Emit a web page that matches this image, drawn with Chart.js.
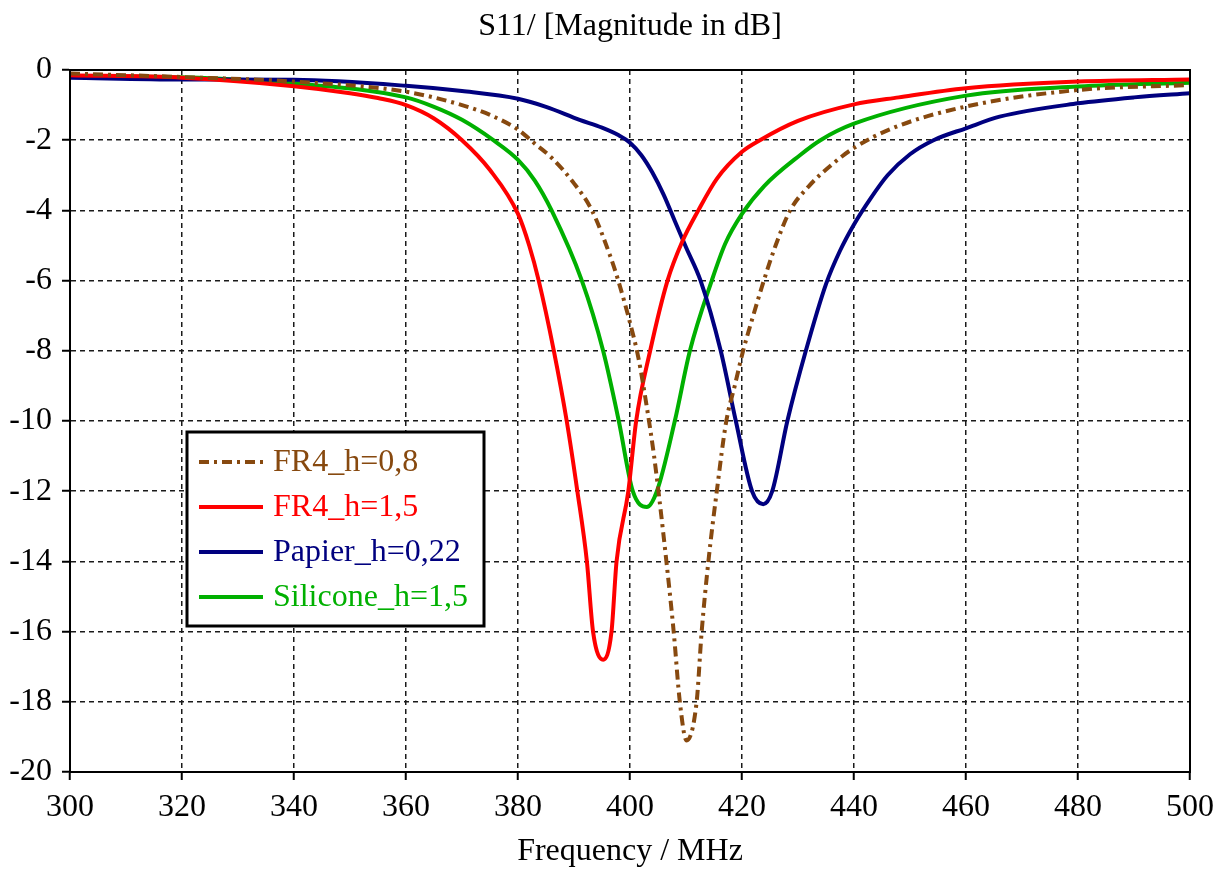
<!DOCTYPE html>
<html>
<head>
<meta charset="utf-8" />
<title>S11 Magnitude</title>
<script src="https://cdn.jsdelivr.net/npm/chart.js"></script>
<style>
	html, body { margin: 0; padding: 0; background: #fff; }
	#wrap { width: 1221px; height: 871px; }
</style>
</head>
<body>
<div id="wrap"><canvas id="s11Chart" width="1221" height="871"></canvas></div>
<script>
	// values (frequency in MHz, S11 in dB)
	const fr4_08_freq = [300, 320, 340, 360, 370, 375, 380, 383, 386, 390, 393.2, 396.4, 397.9, 400, 401.5, 403, 404.3, 405.3, 406.5, 407.8, 408.9, 410.1, 411.9, 412.8, 414, 415.5, 417.2, 418.7, 420.2, 422, 423.9, 426, 428.6, 432, 436, 440, 447, 460, 480, 500];
	const fr4_08_db = [-0.1, -0.2, -0.33, -0.62, -1.0, -1.28, -1.7, -2.1, -2.5, -3.23, -4, -5.27, -6, -7.2, -8.2, -9.6, -11, -12.3, -14, -16, -18, -19.1, -18, -16, -14, -12, -10, -9, -8, -7, -6, -5, -4, -3.3, -2.7, -2.22, -1.65, -1.04, -0.57, -0.43];

	const fr4_15_freq = [300, 320, 340, 350, 355, 360, 365, 370, 375, 380, 382, 383.7, 386.4, 388.7, 390.6, 392.3, 393.4, 395.2, 396.7, 397.6, 399.7, 401.1, 403.6, 406.7, 409.3, 412.2, 415.5, 420, 423.2, 430, 440, 448, 460, 480, 500];
	const fr4_15_db = [-0.15, -0.22, -0.46, -0.66, -0.8, -1.0, -1.38, -2.0, -2.85, -4.1, -5.0, -6, -8, -10, -12, -14, -16, -16.8, -16, -14, -12, -10, -8, -6, -4.9, -4.0, -3.1, -2.33, -2, -1.45, -0.98, -0.78, -0.52, -0.33, -0.27];

	const papier_freq = [300, 320, 340, 360, 370, 380, 385, 391, 395, 398, 400, 402, 404, 406, 408, 410, 412.6, 416.2, 418.9, 421.8, 423.8, 425.4, 428.1, 431.4, 435, 437.5, 440, 443, 446, 450, 454.2, 460, 466, 480, 490, 500];
	const papier_db = [-0.22, -0.27, -0.28, -0.45, -0.6, -0.82, -1.05, -1.42, -1.64, -1.86, -2.07, -2.42, -2.92, -3.55, -4.3, -5.05, -6, -8, -10, -12, -12.37, -12, -10, -8, -6.1, -5.15, -4.4, -3.65, -3.0, -2.4, -2.0, -1.66, -1.33, -0.95, -0.78, -0.66];

	const silicone_freq = [300, 320, 340, 360, 365, 370, 375.6, 380, 383, 386, 391.4, 395.2, 398, 400.5, 403, 404.8, 408, 410.7, 414.6, 417, 420, 424, 430.4, 434, 440, 460, 480, 500];
	const silicone_db = [-0.17, -0.21, -0.38, -0.78, -1.05, -1.42, -2, -2.56, -3.15, -4, -6, -8, -10, -12, -12.45, -12, -10, -8, -6, -4.95, -4.1, -3.3, -2.42, -2, -1.53, -0.73, -0.47, -0.36];

	const seriesNames = ["FR4_h=0,8", "FR4_h=1,5", "Papier_h=0,22", "Silicone_h=1,5"];
	const seriesColors = ["#87490f", "#ff0000", "#00007f", "#00b000"];

	const xTicks = [300, 320, 340, 360, 380, 400, 420, 440, 460, 480, 500];
	const yTicks = [0, -2, -4, -6, -8, -10, -12, -14, -16, -18, -20];

	const titleText = 'S11/ [Magnitude in dB]';
	const serif = "'Liberation Serif', 'Times New Roman', serif";

	function toPoints(xs, ys) {
		return xs.map(function (x, i) { return { x: x, y: ys[i] }; });
	}

	const lineBase = {
		borderWidth: 4,
		pointRadius: 0,
		fill: false,
		cubicInterpolationMode: 'monotone'
	};

	// title centred over the plot area rather than the whole canvas
	const plotTitle = {
		id: 'plotTitle',
		afterDraw(chart) {
			const ctx = chart.ctx;
			const a = chart.chartArea;
			ctx.save();
			ctx.font = '32px ' + serif;
			ctx.fillStyle = '#000';
			ctx.textAlign = 'center';
			ctx.textBaseline = 'middle';
			ctx.fillText(titleText, (a.left + a.right) / 2, 27);
			ctx.restore();
		}
	};

	// legend box drawn inside the plot, like the original
	const boxLegend = {
		id: 'boxLegend',
		afterDraw(chart) {
			const ctx = chart.ctx;
			const a = chart.chartArea;
			const bx = a.left + 117, by = a.top + 362, bw = 297, bh = 194;
			ctx.save();
			ctx.fillStyle = '#fff';
			ctx.fillRect(bx, by, bw, bh);
			ctx.lineWidth = 3;
			ctx.strokeStyle = '#000';
			ctx.strokeRect(bx, by, bw, bh);
			ctx.font = '32px ' + serif;
			ctx.textBaseline = 'middle';
			chart.data.datasets.forEach(function (ds, i) {
				const y = by + 30 + i * 45;
				ctx.strokeStyle = ds.borderColor;
				ctx.lineWidth = 4;
				ctx.setLineDash(ds.borderDash || []);
				ctx.beginPath();
				ctx.moveTo(bx + 12, y);
				ctx.lineTo(bx + 76, y);
				ctx.stroke();
				ctx.setLineDash([]);
				ctx.fillStyle = ds.borderColor;
				ctx.fillText(ds.label, bx + 86, y + 1);
			});
			ctx.restore();
		}
	};

	// solid frame round the plot area
	const plotFrame = {
		id: 'plotFrame',
		afterDatasetsDraw(chart) {
			const ctx = chart.ctx;
			const a = chart.chartArea;
			ctx.save();
			ctx.lineWidth = 2;
			ctx.strokeStyle = '#000';
			ctx.strokeRect(a.left, a.top, a.right - a.left, a.bottom - a.top);
			ctx.restore();
		}
	};

	new Chart(document.getElementById('s11Chart').getContext('2d'), {
		type: 'line',
		data: {
			datasets: [
				Object.assign({ label: seriesNames[0], data: toPoints(fr4_08_freq, fr4_08_db), borderColor: seriesColors[0], borderDash: [10, 5, 3, 5] }, lineBase),
				Object.assign({ label: seriesNames[1], data: toPoints(fr4_15_freq, fr4_15_db), borderColor: seriesColors[1] }, lineBase),
				Object.assign({ label: seriesNames[2], data: toPoints(papier_freq, papier_db), borderColor: seriesColors[2] }, lineBase),
				Object.assign({ label: seriesNames[3], data: toPoints(silicone_freq, silicone_db), borderColor: seriesColors[3] }, lineBase)
			]
		},
		options: {
			responsive: false,
			animation: false,
			layout: { padding: { left: 0, right: 31, top: 70, bottom: 0 } },
			plugins: {
				legend: { display: false },
				tooltip: { enabled: false },
				title: { display: false }
			},
			scales: {
				x: {
					type: 'linear',
					min: 300,
					max: 500,
					afterBuildTicks(scale) { scale.ticks = xTicks.map(function (v) { return { value: v }; }); },
					afterFit(scale) {
						scale.height = 99;
						scale.paddingLeft = 0;
						scale.paddingRight = 0;
					},
					ticks: { color: '#000', font: { family: serif, size: 32, lineHeight: 1 }, padding: 12, maxRotation: 0 },
					grid: { color: '#1a1a1a', lineWidth: 1.5, tickLength: 8, tickColor: '#000', tickWidth: 2 },
					border: { display: true, color: '#000', width: 2, dash: [5, 4] },
					title: {
						display: true,
						text: 'Frequency / MHz',
						color: '#000',
						font: { family: serif, size: 32, weight: 'normal', lineHeight: 1.2 },
						padding: { top: 0, bottom: 0 }
					}
				},
				y: {
					type: 'linear',
					min: -20,
					max: 0,
					afterBuildTicks(scale) { scale.ticks = yTicks.map(function (v) { return { value: v }; }); },
					afterFit(scale) {
						scale.width = 70;
						scale.paddingTop = 0;
						scale.paddingBottom = 0;
					},
					ticks: { color: '#000', font: { family: serif, size: 32 }, padding: 10 },
					grid: { color: '#1a1a1a', lineWidth: 1.5, tickLength: 8, tickColor: '#000', tickWidth: 2 },
					border: { display: true, color: '#000', width: 2, dash: [5, 4] }
				}
			}
		},
		plugins: [plotFrame, boxLegend, plotTitle]
	});
</script>
</body>
</html>
